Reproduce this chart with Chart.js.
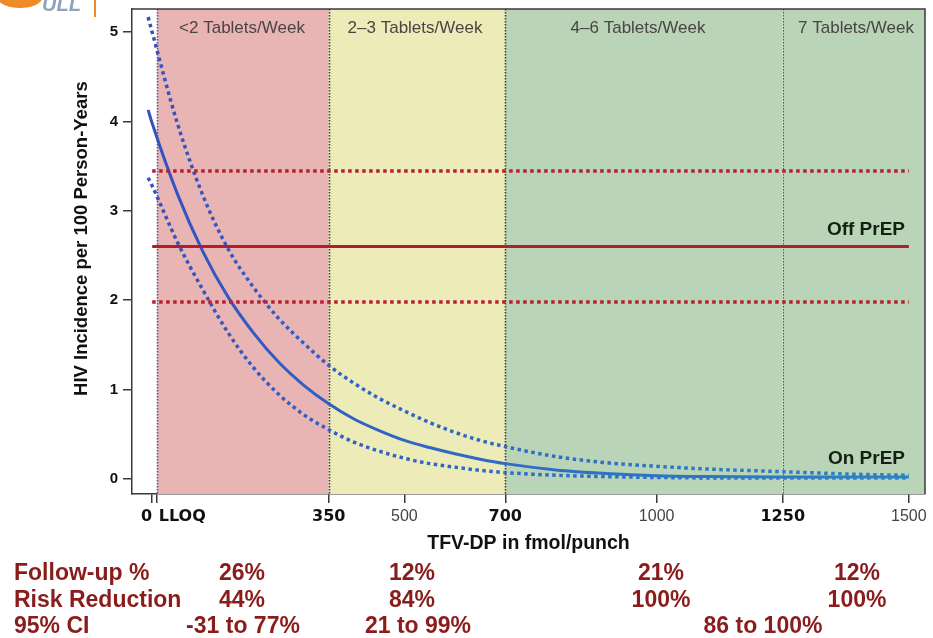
<!DOCTYPE html>
<html>
<head>
<meta charset="utf-8">
<script src="https://cdn.jsdelivr.net/npm/chart.js@4.4.1/dist/chart.umd.min.js"></script>
<style>
  html, body { margin: 0; padding: 0; background: #fff; }
  #wrap { width: 933px; height: 638px; position: relative; }
</style>
</head>
<body>
<div id="wrap"><canvas id="chart" width="933" height="638"></canvas></div>
<script>
// x values (TFV-DP fmol/punch) where the curves were read
const curveX = [-8, 0, 50, 100, 150, 200, 250, 300, 350, 400, 450, 500, 550, 600, 650, 700, 800, 900, 1000, 1100, 1250, 1400, 1500];
// On PrEP incidence and its 95% band
const onPrep = [4.13, 3.98, 3.19, 2.55, 2.04, 1.64, 1.31, 1.05, 0.84, 0.67, 0.54, 0.43, 0.35, 0.28, 0.22, 0.17, 0.10, 0.06, 0.035, 0.025, 0.02, 0.02, 0.02];
const onPrepUpper = [5.17, 5.0, 3.98, 3.18, 2.58, 2.15, 1.80, 1.52, 1.27, 1.07, 0.90, 0.76, 0.63, 0.52, 0.43, 0.36, 0.25, 0.18, 0.14, 0.11, 0.08, 0.05, 0.04];
const onPrepLower = [3.37, 3.28, 2.65, 2.12, 1.64, 1.25, 0.95, 0.72, 0.55, 0.41, 0.31, 0.23, 0.17, 0.13, 0.095, 0.07, 0.04, 0.025, 0.015, 0.01, 0.01, 0.01, 0.01];

// Off PrEP incidence (flat) and its 95% band
const offX = [0, 1500];
const offPrep = [2.6, 2.6];
const offPrepUpper = [3.445, 3.445];
const offPrepLower = [1.98, 1.98];

// adherence bands
const bandEdges = [10, 350, 700, 1250];
const bandLabels = ['<2 Tablets/Week', '2\u20133 Tablets/Week', '4\u20136 Tablets/Week', '7 Tablets/Week'];

// axes
const xTicks = [0, 10, 350, 500, 700, 1000, 1250, 1500];
const xTickLabels = ['0', 'LLOQ', '350', '500', '700', '1000', '1250', '1500'];
const xBoldTicks = [0, 10, 350, 700, 1250];
const yTicks = [0, 1, 2, 3, 4, 5];

// table under the chart
const rowLabels = ['Follow-up %', 'Risk Reduction', '95% CI'];
const followUp = ['26%', '12%', '21%', '12%'];
const riskReduction = ['44%', '84%', '100%', '100%'];
const ciText = ['-31 to 77%', '21 to 99%', '86 to 100%'];

const pts = (xs, ys) => xs.map((x, i) => ({ x: x, y: ys[i] }));

// blue gets a bit lighter to the right, like the original
function blueGrad(ctx) {
  const chart = ctx.chart;
  const area = chart.chartArea;
  if (!area) return '#3060c8';
  const g = chart.ctx.createLinearGradient(area.left, 0, area.right, 0);
  g.addColorStop(0, '#3450c0');
  g.addColorStop(0.3, '#3064c4');
  g.addColorStop(1, '#2a84c6');
  return g;
}

const bandPlugin = {
  id: 'bands',
  beforeDatasetsDraw(chart) {
    const { ctx, chartArea: a, scales: { x } } = chart;
    const fills = ['#e9b4b4', '#edebb8', '#bad4b8', '#bad4b8'];
    ctx.save();
    for (let i = 0; i < bandEdges.length; i++) {
      const x0 = x.getPixelForValue(bandEdges[i]);
      const x1 = i + 1 < bandEdges.length ? x.getPixelForValue(bandEdges[i + 1]) : a.right;
      ctx.fillStyle = fills[i];
      ctx.fillRect(x0, a.top, x1 - x0, a.bottom - a.top);
    }
    // dotted separators
    ctx.setLineDash([1.5, 1.5]);
    bandEdges.forEach((v, i) => {
      const px = Math.round(x.getPixelForValue(v)) + 0.5;
      ctx.strokeStyle = i === 0 ? '#5a5a8a' : (i === 3 ? '#555' : '#3a3a3a');
      ctx.lineWidth = i === 3 ? 1 : 1.6;
      ctx.beginPath();
      ctx.moveTo(px, a.top);
      ctx.lineTo(px, a.bottom);
      ctx.stroke();
    });
    ctx.setLineDash([]);
    // band titles
    ctx.font = '17px "Liberation Sans", Arial, sans-serif';
    ctx.fillStyle = '#4a4444';
    ctx.textAlign = 'center';
    ctx.textBaseline = 'middle';
    const centers = [242, 415, 638, 856];
    bandLabels.forEach((t, i) => ctx.fillText(t, centers[i], 28));
    ctx.restore();
  },
  afterDraw(chart) {
    const { ctx, chartArea: a } = chart;
    ctx.save();
    // box round the plot
    ctx.strokeStyle = '#3a3a3a';
    ctx.lineWidth = 1.5;
    ctx.beginPath();
    ctx.moveTo(a.left, a.top);
    ctx.lineTo(a.right, a.top);
    ctx.lineTo(a.right, a.bottom);
    ctx.stroke();

    // line names
    ctx.font = 'bold 19px "Liberation Sans", Arial, sans-serif';
    ctx.fillStyle = '#132013';
    ctx.textAlign = 'right';
    ctx.textBaseline = 'alphabetic';
    ctx.fillText('Off PrEP', 905, 235);
    ctx.fillText('On PrEP', 905, 464);

    // table rows
    ctx.font = 'bold 23px "Liberation Sans", Arial, sans-serif';
    ctx.fillStyle = '#8a1c1c';
    const base = [580, 607, 633];
    ctx.textAlign = 'left';
    rowLabels.forEach((t, i) => ctx.fillText(t, 14, base[i]));
    ctx.textAlign = 'center';
    const cols = [242, 412, 661, 857];
    followUp.forEach((t, i) => ctx.fillText(t, cols[i], base[0]));
    riskReduction.forEach((t, i) => ctx.fillText(t, cols[i], base[1]));
    const ciCols = [243, 418, 763];
    ciText.forEach((t, i) => ctx.fillText(t, ciCols[i], base[2]));

    // corner of a logo cut off at the top
    ctx.fillStyle = '#ee8a2a';
    ctx.fillRect(94, 0, 2, 17);
    ctx.beginPath();
    ctx.ellipse(20, -2, 22, 10, 0, 0, Math.PI);
    ctx.fill();
    ctx.font = 'italic bold 20px "Liberation Sans", Arial, sans-serif';
    ctx.fillStyle = '#8fa3b8';
    ctx.textAlign = 'left';
    ctx.fillText('ULL', 42, 11);
    ctx.restore();
  }
};

const dotted = { borderDash: [3.5, 3.5], borderWidth: 3.5 };

new Chart(document.getElementById('chart'), {
  type: 'line',
  data: {
    datasets: [
      Object.assign({ data: pts(offX, offPrepUpper), borderColor: '#b5202e' }, dotted),
      Object.assign({ data: pts(offX, offPrepLower), borderColor: '#b5202e' }, dotted),
      { data: pts(offX, offPrep), borderColor: '#b01f2c', borderWidth: 3 },
      Object.assign({ data: pts(curveX, onPrepUpper), borderColor: blueGrad, cubicInterpolationMode: 'monotone' }, dotted),
      Object.assign({ data: pts(curveX, onPrepLower), borderColor: blueGrad, cubicInterpolationMode: 'monotone' }, dotted),
      { data: pts(curveX, onPrep), borderColor: blueGrad, borderWidth: 3, cubicInterpolationMode: 'monotone' }
    ]
  },
  options: {
    responsive: false,
    animation: false,
    layout: { padding: { left: 62, right: 8, top: 9, bottom: 74 } },
    elements: { point: { radius: 0 }, line: { fill: false } },
    plugins: { legend: { display: false }, tooltip: { enabled: false } },
    scales: {
      x: {
        type: 'linear',
        min: -40,
        max: 1532,
        afterFit(s) { s.height = 70; },
        afterBuildTicks(s) { s.ticks = xTicks.map(v => ({ value: v })); },
        border: { color: '#3a3a3a', width: 1.5 },
        grid: { drawOnChartArea: false, drawTicks: true, tickLength: 9, color: '#3a3a3a', lineWidth: 1.5 },
        ticks: {
          autoSkip: false,
          maxRotation: 0,
          minRotation: 0,
          padding: 4,
          callback(v) {
            const i = xTicks.indexOf(v);
            // 0 and LLOQ ticks are close: push the labels apart
            if (i === 0) return xTickLabels[i] + '  ';
            if (i === 1) return '         ' + xTickLabels[i];
            return xTickLabels[i];
          },
          font(c) {
            return xBoldTicks.includes(c.tick && c.tick.value)
              ? { family: '"DejaVu Sans", sans-serif', weight: 'bold', size: 16 }
              : { family: '"Liberation Sans", Arial, sans-serif', size: 16 };
          },
          color(c) {
            return xBoldTicks.includes(c.tick && c.tick.value) ? '#111' : '#444';
          }
        },
        title: {
          display: true,
          text: 'TFV-DP in fmol/punch',
          color: '#111',
          font: { family: '"Liberation Sans", Arial, sans-serif', weight: 'bold', size: 19.5 },
          padding: { top: 0, bottom: 9 }
        }
      },
      y: {
        min: -0.17,
        max: 5.26,
        afterFit(s) { s.width = 70; s.paddingTop = 0; s.paddingBottom = 0; },
        afterBuildTicks(s) { s.ticks = yTicks.map(v => ({ value: v })); },
        border: { color: '#3a3a3a', width: 1.5 },
        grid: { drawOnChartArea: false, drawTicks: true, tickLength: 9, color: '#3a3a3a', lineWidth: 1.5 },
        ticks: {
          padding: 5,
          color: '#111',
          font: { family: '"Liberation Sans", Arial, sans-serif', weight: 'bold', size: 15 }
        },
        title: {
          display: true,
          // leading spaces lift the centred title a little, as in the original
          text: '     HIV Incidence per 100 Person-Years',
          color: '#111',
          font: { family: '"Liberation Sans", Arial, sans-serif', weight: 'bold', size: 18.5 },
          padding: { top: 9, bottom: 0 }
        }
      }
    }
  },
  plugins: [bandPlugin]
});
</script>
</body>
</html>
